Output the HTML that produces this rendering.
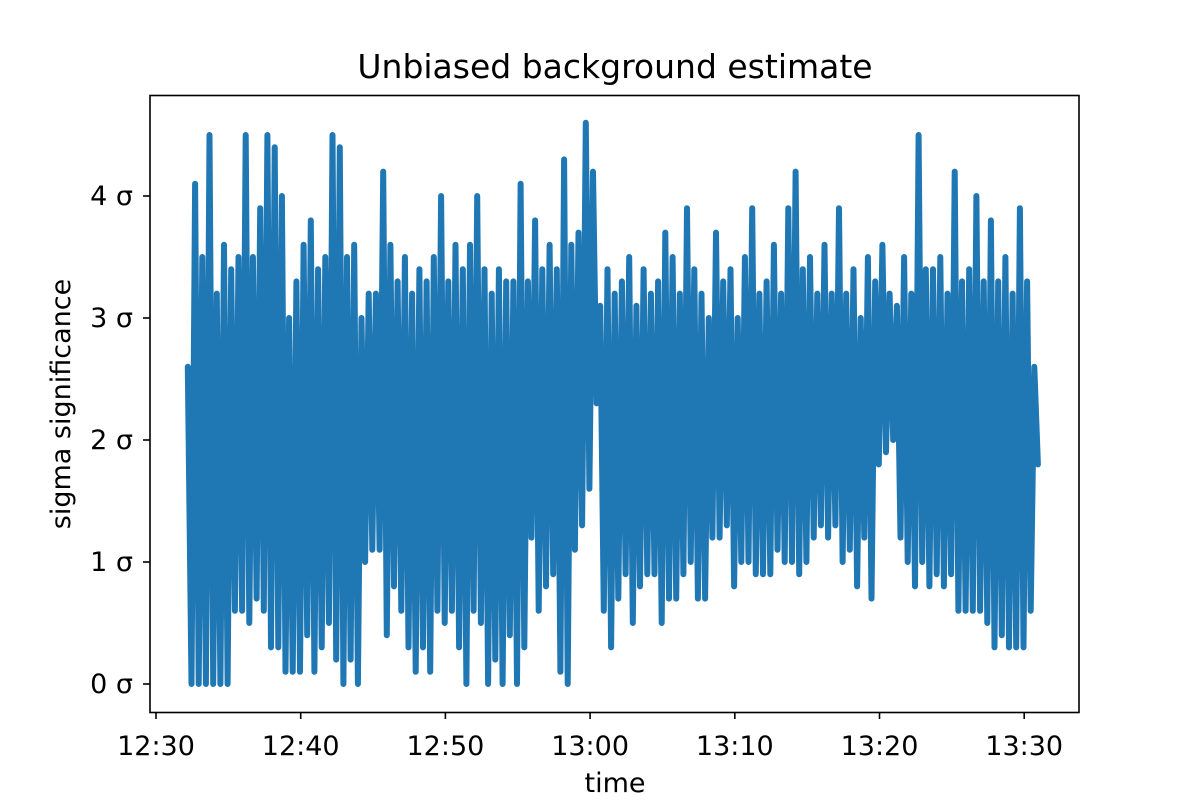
<!DOCTYPE html>
<html><head><meta charset="utf-8">
<style>
html,body{margin:0;padding:0;background:#fff;}
svg text{font-family:"DejaVu Sans","Liberation Sans",sans-serif;fill:#000;}
</style></head>
<body>
<svg id="chart" width="1200" height="800" viewBox="0 0 1200 800" xmlns="http://www.w3.org/2000/svg">
<rect width="1200" height="800" fill="#fff"/>
<text x="615" y="78" style="font-size:33px" text-anchor="middle">Unbiased background estimate</text>
<g id="plot"></g>
<rect x="150" y="95.5" width="929" height="617" fill="none" stroke="#000" stroke-width="1.6"/>
<g id="axes"></g>
<text x="615" y="792" style="font-size:27px" text-anchor="middle">time</text>
<text x="70" y="404" style="font-size:27px" text-anchor="middle" transform="rotate(-90 70 404)">sigma significance</text>
</svg>
<script>
const times=[2.2,2.7,3.2,3.7,4.2,4.7,5.2,5.7,6.2,6.7,7.2,7.7,8.2,8.7,9.2,9.7,10.2,10.7,11.2,11.7,12.2,12.7,13.2,13.7,14.2,14.7,15.2,15.7,16.2,16.7,17.2,17.7,18.2,18.7,19.2,19.7,20.2,20.7,21.2,21.7,22.2,22.7,23.2,23.7,24.2,24.7,25.2,25.7,26.2,26.7,27.2,27.7,28.2,28.7,29.2,29.7,30.2,30.7,31.2,31.7,32.2,32.7,33.2,33.7,34.2,34.7,35.2,35.7,36.2,36.7,37.2,37.7,38.2,38.7,39.2,39.7,40.2,40.7,41.2,41.7,42.2,42.7,43.2,43.7,44.2,44.7,45.2,45.7,46.2,46.7,47.2,47.7,48.2,48.7,49.2,49.7,50.2,50.7,51.2,51.7,52.2,52.7,53.2,53.7,54.2,54.7,55.2,55.7,56.2,56.7,57.2,57.7,58.2,58.7,59.2,59.7,60.2,60.7];
const highs=[2.6,4.1,3.5,4.5,3.2,3.6,3.4,3.5,4.5,3.5,3.9,4.5,4.4,4.0,3.0,3.3,3.6,3.8,3.4,3.5,4.5,4.4,3.5,3.6,3.0,3.2,3.2,4.2,3.6,3.3,3.5,3.2,3.4,3.3,3.5,4.0,3.3,3.6,3.4,3.6,4.0,3.4,3.2,3.4,3.3,3.3,4.1,3.3,3.8,3.4,3.6,3.4,4.3,3.6,3.7,4.6,4.2,3.1,3.4,3.2,3.3,3.5,3.1,3.4,3.2,3.3,3.7,3.5,3.2,3.9,3.4,3.2,3.0,3.7,3.3,3.4,3.0,3.5,3.9,3.2,3.3,3.6,3.2,3.9,4.2,3.4,3.5,3.2,3.6,3.2,3.9,3.2,3.4,3.0,3.5,3.3,3.6,3.2,3.1,3.5,3.2,4.5,3.4,3.4,3.5,3.2,4.2,3.3,3.4,4.0,3.3,3.8,3.3,3.5,3.2,3.9,3.3,2.6];
const lows=[0,0,0,0,0,0,0.6,0.6,0.5,0.7,0.6,0.3,0.3,0.1,0.1,0.1,0.4,0.1,0.3,0.5,0.2,0,0.2,0,1.0,1.1,1.1,0.4,0.8,0.6,0.3,0.1,0.3,0.1,0.6,0.5,0.6,0.3,0,0.6,0.5,0,0.2,0,0.4,0,0.3,1.2,0.6,0.8,0.9,0.1,0,1.1,1.3,1.6,2.3,0.6,0.3,0.7,0.9,0.5,0.8,0.9,0.9,0.5,0.7,0.7,0.9,1.0,0.7,0.7,1.2,1.2,1.3,0.8,1.0,1.0,0.9,0.9,0.9,1.1,1.0,1.0,0.9,1.0,1.2,1.3,1.2,1.3,1.0,1.1,0.8,1.2,0.7,1.8,1.9,2.0,1.2,1.0,0.8,1.0,0.8,0.9,0.8,0.9,0.6,0.6,0.6,0.6,0.5,0.3,0.4,0.3,0.3,0.3,0.6,1.8];
const xTickMinutes=[0,10,20,30,40,50,60];
const xTickLabels=["12:30","12:40","12:50","13:00","13:10","13:20","13:30"];
const yTicks=[0,1,2,3,4];
const yTickLabels=["0 σ","1 σ","2 σ","3 σ","4 σ"];

const NS="http://www.w3.org/2000/svg";
const xScale=m=>156+14.47*m;
const yScale=v=>684-122*v;
const plot=document.getElementById('plot');
const axes=document.getElementById('axes');

let d="";
for(let i=0;i<times.length;i++){
  const t=times[i];
  d+=(i===0?"M":"L")+xScale(t).toFixed(1)+","+yScale(highs[i]).toFixed(1);
  d+="L"+xScale(t+0.25).toFixed(1)+","+yScale(lows[i]).toFixed(1);
}
const path=document.createElementNS(NS,'path');


path.setAttribute('d',d);
path.setAttribute('fill','none');
path.setAttribute('stroke','#1f77b4');
path.setAttribute('stroke-width','6');
path.setAttribute('stroke-linejoin','round');
path.setAttribute('stroke-linecap','round');
plot.appendChild(path);

xTickMinutes.forEach((m,i)=>{
  const x=xScale(m);
  const l=document.createElementNS(NS,'line');
  
  
  l.setAttribute('x1',x);l.setAttribute('x2',x);l.setAttribute('y1',712);l.setAttribute('y2',719);
  l.setAttribute('stroke','#000');l.setAttribute('stroke-width','1.6');
  axes.appendChild(l);
  const t=document.createElementNS(NS,'text');
  
  
  t.setAttribute('x',x);t.setAttribute('y',755);
  t.setAttribute('style','font-size:27px');t.setAttribute('text-anchor','middle');
  t.textContent=xTickLabels[i];
  axes.appendChild(t);
});
yTicks.forEach((v,i)=>{
  const y=yScale(v);
  const l=document.createElementNS(NS,'line');
  
  
  l.setAttribute('x1',143);l.setAttribute('x2',150);l.setAttribute('y1',y);l.setAttribute('y2',y);
  l.setAttribute('stroke','#000');l.setAttribute('stroke-width','1.6');
  axes.appendChild(l);
  const t=document.createElementNS(NS,'text');
  
  
  t.setAttribute('x',133);t.setAttribute('y',y+9);
  t.setAttribute('style','font-size:27px');t.setAttribute('text-anchor','end');
  t.textContent=yTickLabels[i];
  axes.appendChild(t);
});
</script>
</body></html>
